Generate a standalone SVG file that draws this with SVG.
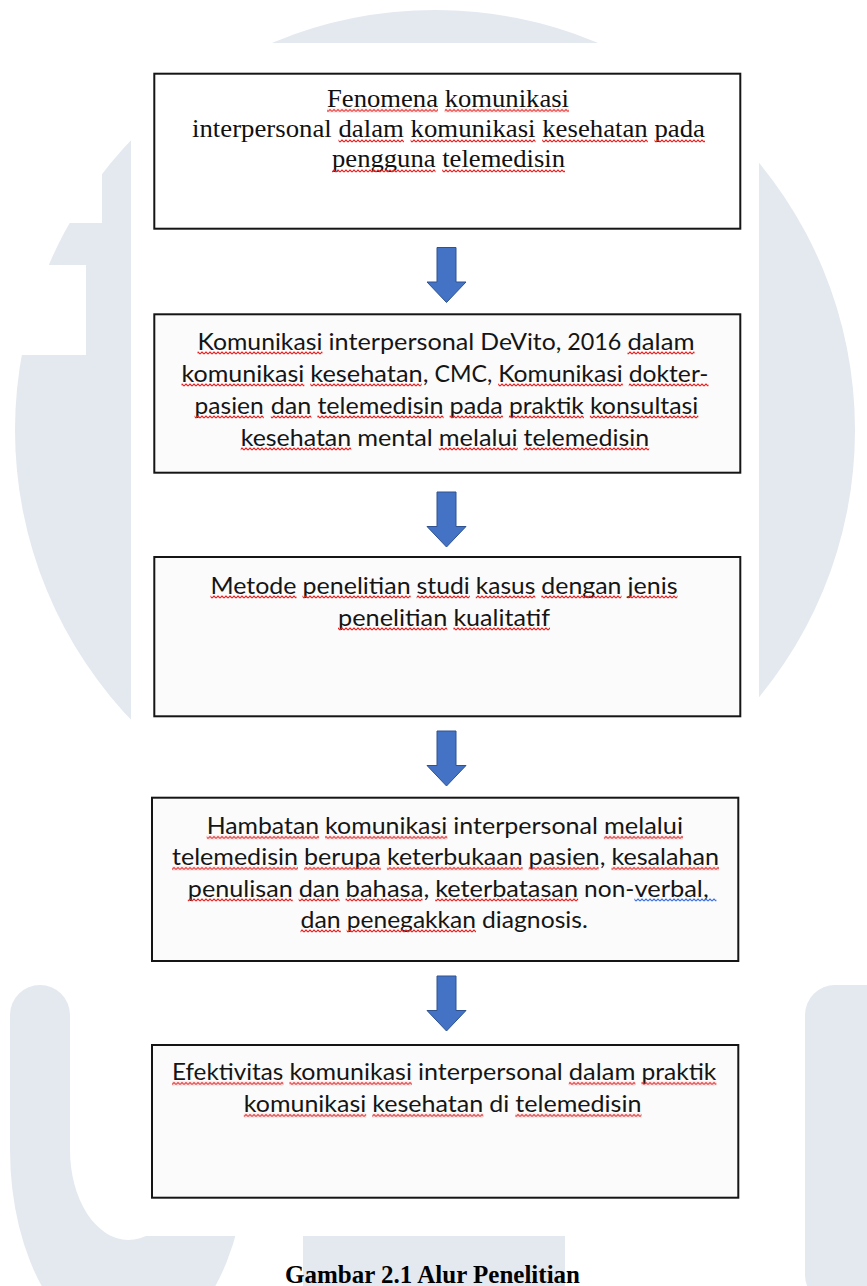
<svg xmlns="http://www.w3.org/2000/svg" width="867" height="1286" viewBox="0 0 867 1286">
<style>
.wm{fill:#e4e9f0}
.bg{fill:#ffffff}
.box{fill:#fbfbfb;stroke:#151515;stroke-width:2}
.box1{fill:#ffffff;stroke:#151515;stroke-width:2}
.serif{font-family:"Liberation Serif","Times New Roman",serif;font-size:24.5px;fill:#111111}
.sans{font-family:Lato,"Liberation Sans",sans-serif;font-size:22.5px;fill:#151515}
.ur{fill:url(#wr)}
.ub{fill:url(#wb)}
.arrow{fill:#4472C4;stroke:#2F528F;stroke-width:1}
.cap{font-family:"Liberation Serif","Times New Roman",serif;font-weight:bold;font-size:25px;fill:#000000}
</style>
<defs>
<path id="arr" d="M-9.5,0 H9.5 V34.5 H19.5 L0,55 L-19.5,34.5 H-9.5 Z"/>
<pattern id="wr" patternUnits="userSpaceOnUse" width="4" height="4"><path d="M0,3 L2,1 L4,3" fill="none" stroke="#e52222" stroke-width="1.1" stroke-linejoin="round"/></pattern>
<pattern id="wb" patternUnits="userSpaceOnUse" width="4" height="4"><path d="M0,3 L2,1 L4,3" fill="none" stroke="#3b6fe0" stroke-width="1.1" stroke-linejoin="round"/></pattern>
</defs>

<g id="watermark">
<circle class="wm" cx="435" cy="430" r="420"/>
<rect class="bg" x="0" y="0" width="102" height="223"/>
<rect class="bg" x="0" y="265" width="86" height="90"/>
<path class="wm" d="M10,1015 A30,30 0 0 1 70,1015 V1150 A58.5,90 0 0 0 187,1150 V1015 H247 V1150 A118.5,200 0 0 1 10,1150 Z"/>
<rect class="wm" x="303" y="1200" width="262" height="100"/>
<rect class="wm" x="805" y="985" width="90" height="320" rx="30"/>
<rect class="bg" x="131" y="43" width="628" height="1193"/>
</g>

<g id="connectors">
<use href="#arr" class="arrow" x="446.5" y="247.5"/>
<use href="#arr" class="arrow" x="446.5" y="492"/>
<use href="#arr" class="arrow" x="446.5" y="731"/>
<use href="#arr" class="arrow" x="446.5" y="976"/>
</g>

<g id="node1">
<rect class="box1" x="154.3" y="73.7" width="586" height="155"/>
<text class="serif" x="327" y="106.5" textLength="242" lengthAdjust="spacingAndGlyphs">Fenomena komunikasi</text>
<text class="serif" x="192" y="137" textLength="513" lengthAdjust="spacingAndGlyphs">interpersonal dalam komunikasi kesehatan pada</text>
<text class="serif" x="332" y="167" textLength="233" lengthAdjust="spacingAndGlyphs">pengguna telemedisin</text>
<g transform="translate(0,108.5)"><rect class="ur" x="327" y="0" width="111" height="4"/><rect class="ur" x="444.7" y="0" width="124.3" height="4"/></g>
<g transform="translate(0,139)"><rect class="ur" x="338.5" y="0" width="65.4" height="4"/><rect class="ur" x="410.6" y="0" width="124.9" height="4"/><rect class="ur" x="542.2" y="0" width="105.6" height="4"/><rect class="ur" x="654.5" y="0" width="50.5" height="4"/></g>
<g transform="translate(0,169)"><rect class="ur" x="332" y="0" width="103.5" height="4"/><rect class="ur" x="442.2" y="0" width="122.8" height="4"/></g>
</g>

<g id="node2">
<rect class="box" x="154.3" y="314.3" width="586" height="158.4"/>
<text class="sans" y="349.5"><tspan x="197.5" textLength="124.9" lengthAdjust="spacingAndGlyphs">Komunikasi</tspan><tspan x="328.5" textLength="145.8" lengthAdjust="spacingAndGlyphs">interpersonal</tspan><tspan x="480.3" textLength="81" lengthAdjust="spacingAndGlyphs">DeVito,</tspan><tspan x="567.3" textLength="54.1" lengthAdjust="spacingAndGlyphs">2016</tspan><tspan x="627.5" textLength="67" lengthAdjust="spacingAndGlyphs">dalam</tspan></text>
<text class="sans" y="381.5"><tspan x="181.5" textLength="122.8" lengthAdjust="spacingAndGlyphs">komunikasi</tspan><tspan x="310.3" textLength="118.1" lengthAdjust="spacingAndGlyphs">kesehatan,</tspan><tspan x="434.4" textLength="57.8" lengthAdjust="spacingAndGlyphs">CMC,</tspan><tspan x="498.2" textLength="124.6" lengthAdjust="spacingAndGlyphs">Komunikasi</tspan><tspan x="628.8" textLength="79.7" lengthAdjust="spacingAndGlyphs">dokter-</tspan></text>
<text class="sans" y="413.5"><tspan x="194.6" textLength="69.2" lengthAdjust="spacingAndGlyphs">pasien</tspan><tspan x="270.8" textLength="40.6" lengthAdjust="spacingAndGlyphs">dan</tspan><tspan x="317.4" textLength="126.2" lengthAdjust="spacingAndGlyphs">telemedisin</tspan><tspan x="449.6" textLength="53.3" lengthAdjust="spacingAndGlyphs">pada</tspan><tspan x="508.9" textLength="75" lengthAdjust="spacingAndGlyphs">praktik</tspan><tspan x="589.9" textLength="108.4" lengthAdjust="spacingAndGlyphs">konsultasi</tspan></text>
<text class="sans" y="445.5"><tspan x="240.7" textLength="110.5" lengthAdjust="spacingAndGlyphs">kesehatan</tspan><tspan x="357.2" textLength="75.6" lengthAdjust="spacingAndGlyphs">mental</tspan><tspan x="438.8" textLength="78.9" lengthAdjust="spacingAndGlyphs">melalui</tspan><tspan x="523.6" textLength="125.6" lengthAdjust="spacingAndGlyphs">telemedisin</tspan></text>
<g transform="translate(0,351)"><rect class="ur" x="197.5" y="0" width="124.9" height="4"/><rect class="ur" x="627.5" y="0" width="67" height="4"/></g>
<g transform="translate(0,383)"><rect class="ur" x="181.5" y="0" width="122.8" height="4"/><rect class="ur" x="310.3" y="0" width="111.4" height="4"/><rect class="ur" x="498.2" y="0" width="124.6" height="4"/><rect class="ur" x="628.8" y="0" width="79.7" height="4"/></g>
<g transform="translate(0,415)"><rect class="ur" x="194.6" y="0" width="69.2" height="4"/><rect class="ur" x="270.8" y="0" width="40.6" height="4"/><rect class="ur" x="317.4" y="0" width="126.2" height="4"/><rect class="ur" x="449.6" y="0" width="53.3" height="4"/><rect class="ur" x="508.9" y="0" width="75" height="4"/><rect class="ur" x="589.9" y="0" width="108.4" height="4"/></g>
<g transform="translate(0,447)"><rect class="ur" x="240.7" y="0" width="110.5" height="4"/><rect class="ur" x="438.8" y="0" width="78.9" height="4"/><rect class="ur" x="523.6" y="0" width="125.6" height="4"/></g>
</g>

<g id="node3">
<rect class="box" x="154.3" y="557" width="586" height="159.3"/>
<text class="sans" y="593.5"><tspan x="210.5" textLength="86" lengthAdjust="spacingAndGlyphs">Metode</tspan><tspan x="302.5" textLength="108.1" lengthAdjust="spacingAndGlyphs">penelitian</tspan><tspan x="416.6" textLength="53.2" lengthAdjust="spacingAndGlyphs">studi</tspan><tspan x="475.8" textLength="59.5" lengthAdjust="spacingAndGlyphs">kasus</tspan><tspan x="541.3" textLength="80.2" lengthAdjust="spacingAndGlyphs">dengan</tspan><tspan x="627.5" textLength="50" lengthAdjust="spacingAndGlyphs">jenis</tspan></text>
<text class="sans" y="625.5"><tspan x="338" textLength="109.3" lengthAdjust="spacingAndGlyphs">penelitian</tspan><tspan x="453.4" textLength="96.6" lengthAdjust="spacingAndGlyphs">kualitatif</tspan></text>
<g transform="translate(0,595)"><rect class="ur" x="210.5" y="0" width="86" height="4"/><rect class="ur" x="302.5" y="0" width="108.1" height="4"/><rect class="ur" x="416.6" y="0" width="53.2" height="4"/><rect class="ur" x="475.8" y="0" width="59.5" height="4"/><rect class="ur" x="541.3" y="0" width="80.2" height="4"/><rect class="ur" x="627.5" y="0" width="50" height="4"/></g>
<g transform="translate(0,627)"><rect class="ur" x="338" y="0" width="109.3" height="4"/><rect class="ur" x="453.4" y="0" width="96.6" height="4"/></g>
</g>

<g id="node4">
<rect class="box" x="152" y="797.7" width="586.3" height="163.3"/>
<text class="sans" y="834"><tspan x="206.7" textLength="112.4" lengthAdjust="spacingAndGlyphs">Hambatan</tspan><tspan x="325.1" textLength="122.2" lengthAdjust="spacingAndGlyphs">komunikasi</tspan><tspan x="453.3" textLength="144.6" lengthAdjust="spacingAndGlyphs">interpersonal</tspan><tspan x="603.9" textLength="79.1" lengthAdjust="spacingAndGlyphs">melalui</tspan></text>
<text class="sans" y="865"><tspan x="172" textLength="126" lengthAdjust="spacingAndGlyphs">telemedisin</tspan><tspan x="304" textLength="76.9" lengthAdjust="spacingAndGlyphs">berupa</tspan><tspan x="386.9" textLength="135.8" lengthAdjust="spacingAndGlyphs">keterbukaan</tspan><tspan x="528.6" textLength="76.8" lengthAdjust="spacingAndGlyphs">pasien,</tspan><tspan x="611.4" textLength="107.6" lengthAdjust="spacingAndGlyphs">kesalahan</tspan></text>
<text class="sans" y="896.5"><tspan x="187.8" textLength="104.9" lengthAdjust="spacingAndGlyphs">penulisan</tspan><tspan x="298.7" textLength="40.9" lengthAdjust="spacingAndGlyphs">dan</tspan><tspan x="345.6" textLength="83.6" lengthAdjust="spacingAndGlyphs">bahasa,</tspan><tspan x="435.2" textLength="142.9" lengthAdjust="spacingAndGlyphs">keterbatasan</tspan><tspan x="584.1" textLength="50.3" lengthAdjust="spacingAndGlyphs">non-</tspan><tspan x="634.4" textLength="74.3" lengthAdjust="spacingAndGlyphs">verbal,</tspan></text>
<text class="sans" y="927.5"><tspan x="300.5" textLength="40.3" lengthAdjust="spacingAndGlyphs">dan</tspan><tspan x="346.7" textLength="129.3" lengthAdjust="spacingAndGlyphs">penegakkan</tspan><tspan x="482" textLength="105.8" lengthAdjust="spacingAndGlyphs">diagnosis.</tspan></text>
<g transform="translate(0,835.5)"><rect class="ur" x="206.7" y="0" width="112.4" height="4"/><rect class="ur" x="325.1" y="0" width="122.2" height="4"/><rect class="ur" x="603.9" y="0" width="79.1" height="4"/></g>
<g transform="translate(0,866.5)"><rect class="ur" x="172" y="0" width="126" height="4"/><rect class="ur" x="304" y="0" width="76.9" height="4"/><rect class="ur" x="386.9" y="0" width="135.8" height="4"/><rect class="ur" x="528.6" y="0" width="70.1" height="4"/><rect class="ur" x="611.4" y="0" width="107.6" height="4"/></g>
<g transform="translate(0,898)"><rect class="ur" x="187.8" y="0" width="104.9" height="4"/><rect class="ur" x="298.7" y="0" width="40.9" height="4"/><rect class="ur" x="345.6" y="0" width="76.9" height="4"/><rect class="ur" x="435.2" y="0" width="142.9" height="4"/><rect class="ub" x="634.4" y="0" width="82" height="4"/></g>
<g transform="translate(0,929)"><rect class="ur" x="300.5" y="0" width="40.3" height="4"/><rect class="ur" x="346.7" y="0" width="129.3" height="4"/></g>
</g>

<g id="node5">
<rect class="box" x="152" y="1045" width="586.3" height="152.7"/>
<text class="sans" y="1080"><tspan x="172" textLength="111.4" lengthAdjust="spacingAndGlyphs">Efektivitas</tspan><tspan x="289.4" textLength="122.5" lengthAdjust="spacingAndGlyphs">komunikasi</tspan><tspan x="417.9" textLength="144.9" lengthAdjust="spacingAndGlyphs">interpersonal</tspan><tspan x="568.8" textLength="66.6" lengthAdjust="spacingAndGlyphs">dalam</tspan><tspan x="641.4" textLength="75" lengthAdjust="spacingAndGlyphs">praktik</tspan></text>
<text class="sans" y="1112"><tspan x="243.8" textLength="122.4" lengthAdjust="spacingAndGlyphs">komunikasi</tspan><tspan x="372.2" textLength="111.1" lengthAdjust="spacingAndGlyphs">kesehatan</tspan><tspan x="489.3" textLength="20" lengthAdjust="spacingAndGlyphs">di</tspan><tspan x="515.3" textLength="126.2" lengthAdjust="spacingAndGlyphs">telemedisin</tspan></text>
<g transform="translate(0,1081.5)"><rect class="ur" x="172" y="0" width="111.4" height="4"/><rect class="ur" x="289.4" y="0" width="122.5" height="4"/><rect class="ur" x="568.8" y="0" width="66.6" height="4"/><rect class="ur" x="641.4" y="0" width="75" height="4"/></g>
<g transform="translate(0,1113.5)"><rect class="ur" x="243.8" y="0" width="122.4" height="4"/><rect class="ur" x="372.2" y="0" width="111.1" height="4"/><rect class="ur" x="515.3" y="0" width="126.2" height="4"/></g>
</g>

<g id="caption">
<text class="cap" x="285" y="1283" textLength="295" lengthAdjust="spacingAndGlyphs">Gambar 2.1 Alur Penelitian</text>
</g>
</svg>
